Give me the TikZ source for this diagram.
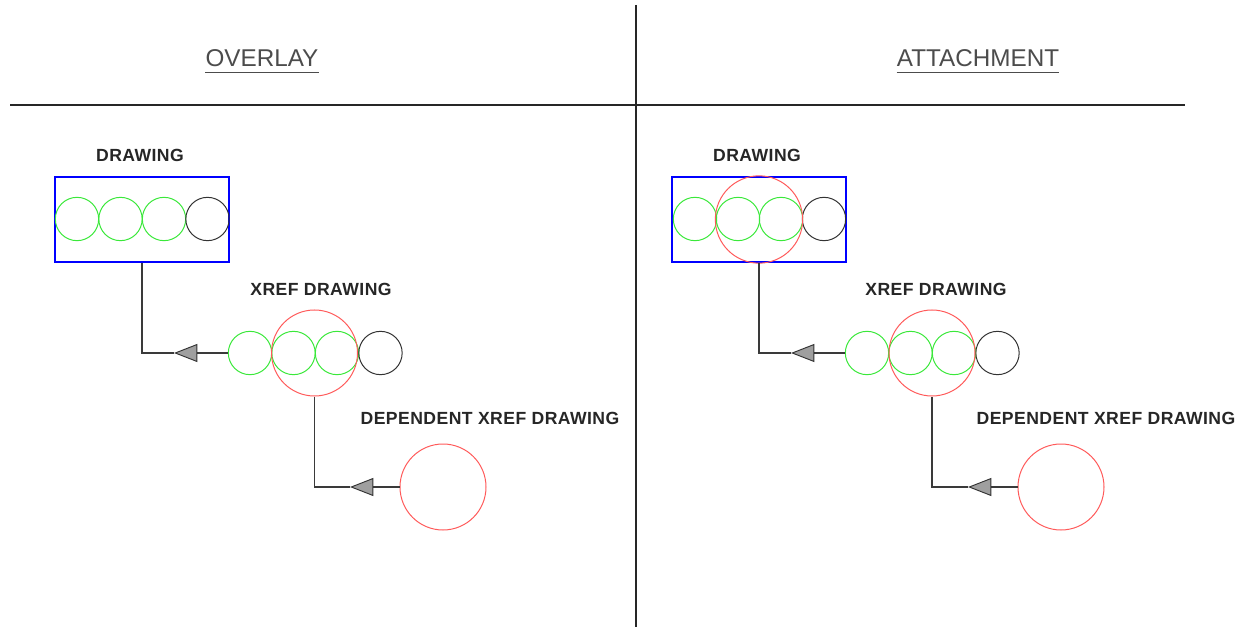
\documentclass[tikz,border=0pt]{standalone}
\usepackage{fontspec}
\setmainfont{Liberation Sans}
\newfontfamily\lblfont[LetterSpace=2.5]{Liberation Sans}
\usetikzlibrary{arrows.meta}
\definecolor{cgreen}{HTML}{3AE83A}
\definecolor{cred}{HTML}{FF5A5A}
\definecolor{cline}{HTML}{3A3A3A}
\tikzset{
  sc/.style={circle,draw,inner sep=0pt,minimum size=32.5pt,line width=0.75pt},
  gc/.style={sc,draw=cgreen},
  kc/.style={sc,draw=black!80},
  rc/.style={circle,draw=cred,inner sep=0pt,minimum size=64.5pt,line width=0.75pt},
  dwgbox/.style={draw=blue,line width=1.5pt,inner sep=0pt,minimum width=130.5pt,minimum height=63.75pt},
  lbl/.style={font=\lblfont\bfseries\fontsize{13.2}{15}\selectfont,text=black!85,inner sep=0pt},
  head/.style={font=\fontsize{18.2}{20}\selectfont,text=black!70,inner sep=0pt,anchor=base},
  ul/.style={draw=black!70,line width=1.1pt},
  conn/.style={draw=cline,line width=1pt},
  arr/.style={conn,-{Triangle[length=17.5pt,width=13.5pt,fill=gray!75,color=black!80,line width=0.7pt]}},
  divider/.style={draw=black!85,line width=0.8pt}
}
\begin{document}
\begin{tikzpicture}[x=0.75pt,y=-0.75pt]
\useasboundingbox (0,0) rectangle (1246,627);
% dividers
\coordinate (vt) at (636,5);
\coordinate (vb) at (636,627);
\coordinate (hl) at (10,105);
\coordinate (hr) at (1185,105);
\draw[divider] (vt) -- (vb);
\draw[divider] (hl) -- (hr);
% headings
\node[head] (L-h) at (262,67) {OVERLAY};
\draw[ul] ([yshift=-4pt]L-h.base west) -- ([yshift=-4pt]L-h.base east);
\node[head] (R-h) at (978,67) {ATTACHMENT};
\draw[ul] ([yshift=-4pt]R-h.base west) -- ([yshift=-4pt]R-h.base east);

% ---------- left panel: overlay ----------
\node[lbl] (L-t1) at (140,155) {DRAWING};
\node[dwgbox] (L-box) at (142,219.5) {};
\node[gc] (L-g1) at (77,219) {};
\node[gc] (L-g2) at (120.5,219) {};
\node[gc] (L-g3) at (164,219) {};
\node[kc] (L-k1) at (207.5,219) {};

\node[lbl] (L-t2) at (321,289) {XREF DRAWING};
\node[gc] (L-x1) at (250,353) {};
\node[gc] (L-x2) at (293.5,353) {};
\node[gc] (L-x3) at (337,353) {};
\node[kc] (L-x4) at (380.5,353) {};
\node[rc] (L-xr) at (314.5,353) {};

\node[lbl] (L-t3) at (490,418) {DEPENDENT XREF DRAWING};
\node[rc] (L-dep) at (443,487) {};

\coordinate (L-tip1) at (174,353);
\coordinate (L-tip2) at (350,487);
\draw[arr] (L-x1.west) -- (L-tip1);
\draw[conn] (L-tip1) -| (L-box.south);
\draw[arr] (L-dep.west) -- (L-tip2);
\draw[conn] (L-tip2) -| (L-xr.south);

% ---------- right panel: attachment ----------
\node[lbl] (R-t1) at (757,155) {DRAWING};
\node[dwgbox] (R-box) at (759,219.5) {};
\node[gc] (R-g1) at (695,219) {};
\node[gc] (R-g2) at (738,219) {};
\node[gc] (R-g3) at (781,219) {};
\node[kc] (R-k1) at (824,219) {};
\node[rc,minimum size=65.5pt] (R-dr) at (759,219.5) {};

\node[lbl] (R-t2) at (936,289) {XREF DRAWING};
\node[gc] (R-x1) at (867,353) {};
\node[gc] (R-x2) at (910.5,353) {};
\node[gc] (R-x3) at (954,353) {};
\node[kc] (R-x4) at (997.5,353) {};
\node[rc] (R-xr) at (932,353) {};

\node[lbl] (R-t3) at (1106,418) {DEPENDENT XREF DRAWING};
\node[rc] (R-dep) at (1061,487) {};

\coordinate (R-tip1) at (791,353);
\coordinate (R-tip2) at (968,487);
\draw[arr] (R-x1.west) -- (R-tip1);
\draw[conn] (R-tip1) -| (R-box.south);
\draw[arr] (R-dep.west) -- (R-tip2);
\draw[conn] (R-tip2) -| (R-xr.south);
\end{tikzpicture}
\end{document}
